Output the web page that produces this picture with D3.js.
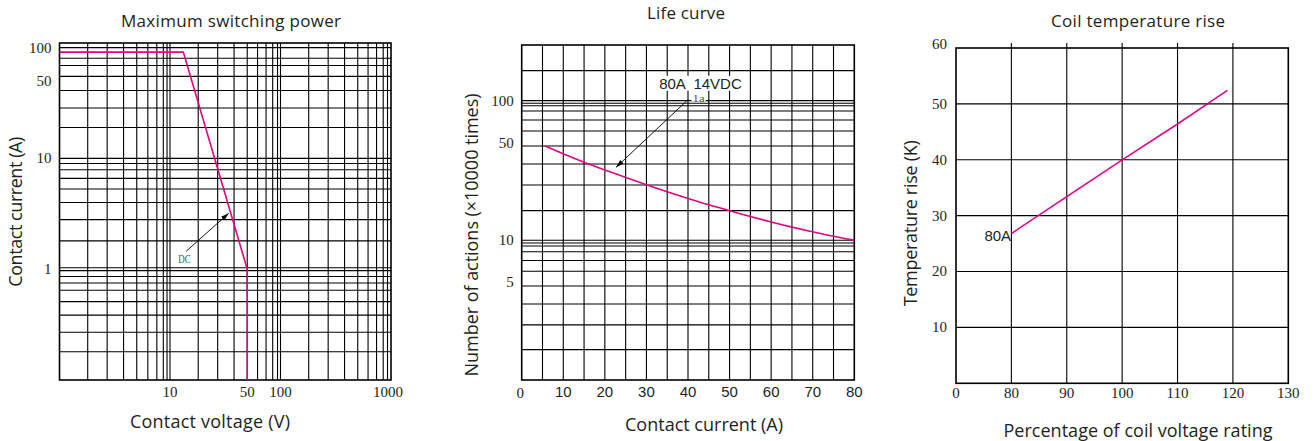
<!DOCTYPE html>
<html><head><meta charset="utf-8">
<script src="https://cdn.jsdelivr.net/npm/d3@7"></script>
<style>html,body{margin:0;padding:0;background:#fff;} svg{display:block}</style>
</head><body>
<svg id="c" width="1316" height="441"></svg>
<script>
// ---------------- Chart 1: Maximum switching power ----------------
const powerTitle = "Maximum switching power";
const powerXLabel = "Contact voltage (V)";
const powerYLabel = "Contact current (A)";
const powerXTicks = [10, 50, 100, 1000];
const powerYTicks = [100, 50, 10, 1];
const powerXGrid = [1.8, 2.7, 3.8, 5, 6.3, 7.6, 8.7, 9.4, 10, 18, 27, 38, 50, 62, 74, 85, 94, 100, 180, 270, 380, 500, 620, 740, 850, 930];
const powerYGrid = [0.18, 0.27, 0.385, 0.51, 0.645, 0.75, 0.86, 0.97, 1.03, 1.8, 2.8, 4, 5.3, 6.6, 7.9, 9, 10, 19, 28.5, 41, 55, 69, 80, 100];
const powerVoltage = [1, 13.2, 50, 50];
const powerCurrent = [91, 91, 1, 0.1];
const powerNote = {text: "DC", at: [13.5, 1.25], from: [14, 1.45], to: [34, 3.2]};

// ---------------- Chart 2: Life curve ----------------
const lifeTitle = "Life curve";
const lifeXLabel = "Contact current (A)";
const lifeYLabel = "Number of actions (\u00d710000 times)";
const lifeXTicks = [0, 10, 20, 30, 40, 50, 60, 70, 80];
const lifeYTicks = [100, 50, 10, 5];
const lifeXGrid = [5, 10, 15, 20, 25, 30, 35, 40, 45, 50, 55, 60, 65, 70, 75];
const lifeYGrid = [1.65, 2.48, 3.5, 4.71, 6.0, 7.17, 8.28, 9.1, 9.57, 10, 16.3, 24.9, 35.2, 47.3, 60.6, 72.6, 84.2, 91.9, 95.7, 100, 164];
const lifeCurrent = [5.6, 10, 15, 20, 25, 30, 35, 40, 45, 50, 55, 60, 65, 70, 75, 80];
const lifeActions = [47.3, 41.5, 36.2, 31.9, 28.2, 24.9, 22.2, 19.9, 17.9, 16.3, 14.8, 13.5, 12.4, 11.5, 10.65, 10.0];
const lifeNote = {text: "80A  14VDC", at: [43, 121.5], sub: "1a", subAt: [41.1, 98.5], from: [40.1, 102.2], to: [22.7, 33.3]};

// ---------------- Chart 3: Coil temperature rise ----------------
const tempTitle = "Coil temperature rise";
const tempXLabel = "Percentage of coil voltage rating";
const tempYLabel = "Temperature rise (K)";
const tempXTicks = [0, 80, 90, 100, 110, 120, 130];
const tempYTicks = [10, 20, 30, 40, 50, 60];
const tempXGrid = [80, 90, 100, 110, 120];
const tempYGrid = [10, 20, 30, 40, 50];
const tempVoltage = [80, 90, 100, 110, 119];
const tempRise = [26.8, 33.4, 40, 46.4, 52.4];
const tempNote = {text: "80A", at: [79.6, 25.5]};

// ---------------- styles ----------------
const SANS = "'Open Sans', 'Noto Sans', sans-serif";
const ARIAL = "'Liberation Sans', Arial, sans-serif";
const SERIF = "'Liberation Serif', 'Times New Roman', serif";
const TXT = "#231f20";
const PINK = "#e5007e";

const svg = d3.select("#c");
const defs = svg.append("defs");
defs.append("marker").attr("id", "arr")
  .attr("markerUnits", "userSpaceOnUse")
  .attr("markerWidth", 9).attr("markerHeight", 6)
  .attr("refX", 8).attr("refY", 3).attr("orient", "auto")
  .append("path").attr("d", "M0,0.5 L8,3 L0,5.5 Z").attr("fill", "#000");

function text(g, str, x, y, o) {
  const t = g.append("text").attr("x", x).attr("y", y)
    .attr("font-family", o.font || SANS)
    .attr("font-size", o.size || 17)
    .attr("fill", o.fill || TXT)
    .attr("text-anchor", o.anchor || "middle")
    .style("white-space", "pre")
    .attr("xml:space", "preserve")
    .text(str);
  if (o.len) t.attr("textLength", o.len).attr("lengthAdjust", o.adjust || "spacing");
  if (o.rotate) t.attr("transform", `rotate(-90,${x},${y})`);
  return t;
}

function frame(g, box) {
  g.append("rect").attr("x", box.x0).attr("y", box.y0)
    .attr("width", box.x1 - box.x0).attr("height", box.y1 - box.y0)
    .attr("fill", "none").attr("stroke", "#000").attr("stroke-width", 1.6);
}

function grid(g, xs, ys, xv, yv, box, ext) {
  g.append("g").selectAll("line").data(xv).join("line")
    .attr("x1", d => xs(d)).attr("x2", d => xs(d))
    .attr("y1", box.y0 - (ext || 0)).attr("y2", box.y1)
    .attr("stroke", "#000").attr("stroke-width", 1.1);
  g.append("g").selectAll("line").data(yv).join("line")
    .attr("y1", d => ys(d)).attr("y2", d => ys(d))
    .attr("x1", box.x0).attr("x2", box.x1)
    .attr("stroke", "#000").attr("stroke-width", 1.1);
}

// ================= Chart 1 =================
{
  const box = {x0: 59.5, x1: 391, y0: 43, y1: 380};
  const g = svg.append("g");
  const x = d3.scaleLog().domain([1, 1000]).range([box.x0, box.x1]);
  const y = d3.scaleLog().domain([0.1, 110]).range([box.y1, box.y0]);
  grid(g, x, y, powerXGrid, powerYGrid, box);
  frame(g, box);
  const pts = powerVoltage.map((v, i) => [v, powerCurrent[i]]);
  g.append("path").datum(pts)
    .attr("d", d3.line().x(d => x(d[0])).y(d => y(d[1])))
    .attr("fill", "none").attr("stroke", PINK).attr("stroke-width", 1.6);
  g.selectAll(".xt").data(powerXTicks).join("text")
    .attr("x", d => x(d) - (d === 1000 ? 3 : 0)).attr("y", 397)
    .attr("font-family", SERIF).attr("font-size", 15).attr("fill", TXT)
    .attr("text-anchor", "middle").text(d => d);
  g.selectAll(".yt").data(powerYTicks).join("text")
    .attr("x", box.x0 - 8).attr("y", d => y(d)).attr("dy", "0.33em")
    .attr("font-family", SERIF).attr("font-size", 15).attr("fill", TXT)
    .attr("text-anchor", "end").text(d => d);
  g.append("line")
    .attr("x1", x(powerNote.from[0])).attr("y1", y(powerNote.from[1]))
    .attr("x2", x(powerNote.to[0])).attr("y2", y(powerNote.to[1]))
    .attr("stroke", "#000").attr("stroke-width", 0.9).attr("marker-end", "url(#arr)");
  text(g, powerNote.text, x(powerNote.at[0]), y(powerNote.at[1]) + 4.5,
    {font: SERIF, size: 13, fill: "#555", len: 12.5, adjust: "spacingAndGlyphs"});
  text(g, powerTitle, 231, 26.7, {size: 17, len: 220});
  text(g, powerXLabel, 210, 428, {size: 18, len: 160});
  text(g, powerYLabel, 22.5, 211.7, {size: 18, len: 150, rotate: true});
}

// ================= Chart 2 =================
{
  const box = {x0: 521.7, x1: 854.3, y0: 45, y1: 380};
  const g = svg.append("g");
  const x = d3.scaleLinear().domain([0, 80]).range([box.x0, box.x1]);
  const y = d3.scaleLog().domain([1, 250]).range([box.y1, box.y0]);
  grid(g, x, y, lifeXGrid, lifeYGrid, box);
  frame(g, box);
  const pts = lifeCurrent.map((v, i) => [v, lifeActions[i]]);
  g.append("path").datum(pts)
    .attr("d", d3.line().x(d => x(d[0])).y(d => y(d[1])).curve(d3.curveBasis))
    .attr("fill", "none").attr("stroke", PINK).attr("stroke-width", 1.6);
  g.selectAll(".xt").data(lifeXTicks).join("text")
    .attr("x", d => x(d) - (d === 0 ? 1.5 : 0)).attr("y", d => d === 0 ? 397.5 : 397)
    .attr("font-family", d => d === 0 ? SERIF : ARIAL).attr("font-size", 15).attr("fill", TXT)
    .attr("text-anchor", "middle").text(d => d);
  g.selectAll(".yt").data(lifeYTicks).join("text")
    .attr("x", box.x0 - 8).attr("y", d => y(d)).attr("dy", "0.33em")
    .attr("font-family", SERIF).attr("font-size", 15).attr("fill", TXT)
    .attr("text-anchor", "end").text(d => d);
  const t1 = text(g, lifeNote.text, x(lifeNote.at[0]), y(lifeNote.at[1]), {font: ARIAL, size: 15, fill: "#231f20"});
  const b1 = t1.node().getBBox();
  g.insert("rect", () => t1.node()).attr("x", b1.x - 2).attr("y", b1.y + 1)
    .attr("width", b1.width + 4).attr("height", b1.height - 2).attr("fill", "#fff");
  const t2 = text(g, lifeNote.sub, x(lifeNote.subAt[0]), y(lifeNote.subAt[1]),
    {font: SERIF, size: 11, fill: "#555", anchor: "start", len: 12, adjust: "spacingAndGlyphs"});
  const b2 = t2.node().getBBox();
  g.insert("rect", () => t2.node()).attr("x", b2.x - 1).attr("y", b2.y + 2)
    .attr("width", b2.width + 2).attr("height", b2.height - 4).attr("fill", "#fff");
  g.append("line")
    .attr("x1", x(lifeNote.from[0])).attr("y1", y(lifeNote.from[1]))
    .attr("x2", x(lifeNote.to[0])).attr("y2", y(lifeNote.to[1]))
    .attr("stroke", "#000").attr("stroke-width", 0.9).attr("marker-end", "url(#arr)");
  text(g, lifeTitle, 686, 19.3, {size: 17, len: 78});
  text(g, lifeXLabel, 704, 431, {size: 18, len: 158});
  text(g, lifeYLabel, 477.5, 235, {size: 18, len: 283, rotate: true});
}

// ================= Chart 3 =================
{
  const box = {x0: 956, x1: 1288.3, y0: 48, y1: 383.3};
  const g = svg.append("g");
  const w = box.x1 - box.x0;
  const x = d3.scaleLinear().domain([0, 80, 130]).range([box.x0, box.x0 + w / 6, box.x1]);
  const y = d3.scaleLinear().domain([0, 60]).range([box.y1, box.y0]);
  grid(g, x, y, tempXGrid, tempYGrid, box, 5);
  frame(g, box);
  const pts = tempVoltage.map((v, i) => [v, tempRise[i]]);
  g.append("path").datum(pts)
    .attr("d", d3.line().x(d => x(d[0])).y(d => y(d[1])))
    .attr("fill", "none").attr("stroke", PINK).attr("stroke-width", 1.5);
  g.selectAll(".xt").data(tempXTicks).join("text")
    .attr("x", d => x(d)).attr("y", 398)
    .attr("font-family", SERIF).attr("font-size", 15).attr("fill", TXT)
    .attr("text-anchor", "middle").text(d => d);
  g.selectAll(".yt").data(tempYTicks).join("text")
    .attr("x", box.x0 - 9).attr("y", d => y(d) - (d === 60 ? 4 : 0)).attr("dy", "0.33em")
    .attr("font-family", SERIF).attr("font-size", 15).attr("fill", TXT)
    .attr("text-anchor", "end").text(d => d);
  text(g, tempNote.text, x(tempNote.at[0]), y(tempNote.at[1]), {font: ARIAL, size: 15, anchor: "end"});
  text(g, tempTitle, 1138, 26.7, {size: 17, len: 174});
  text(g, tempXLabel, 1138, 437, {size: 18, len: 269});
  text(g, tempYLabel, 917.5, 223.3, {size: 18, len: 166, rotate: true});
}
</script>
</body></html>
